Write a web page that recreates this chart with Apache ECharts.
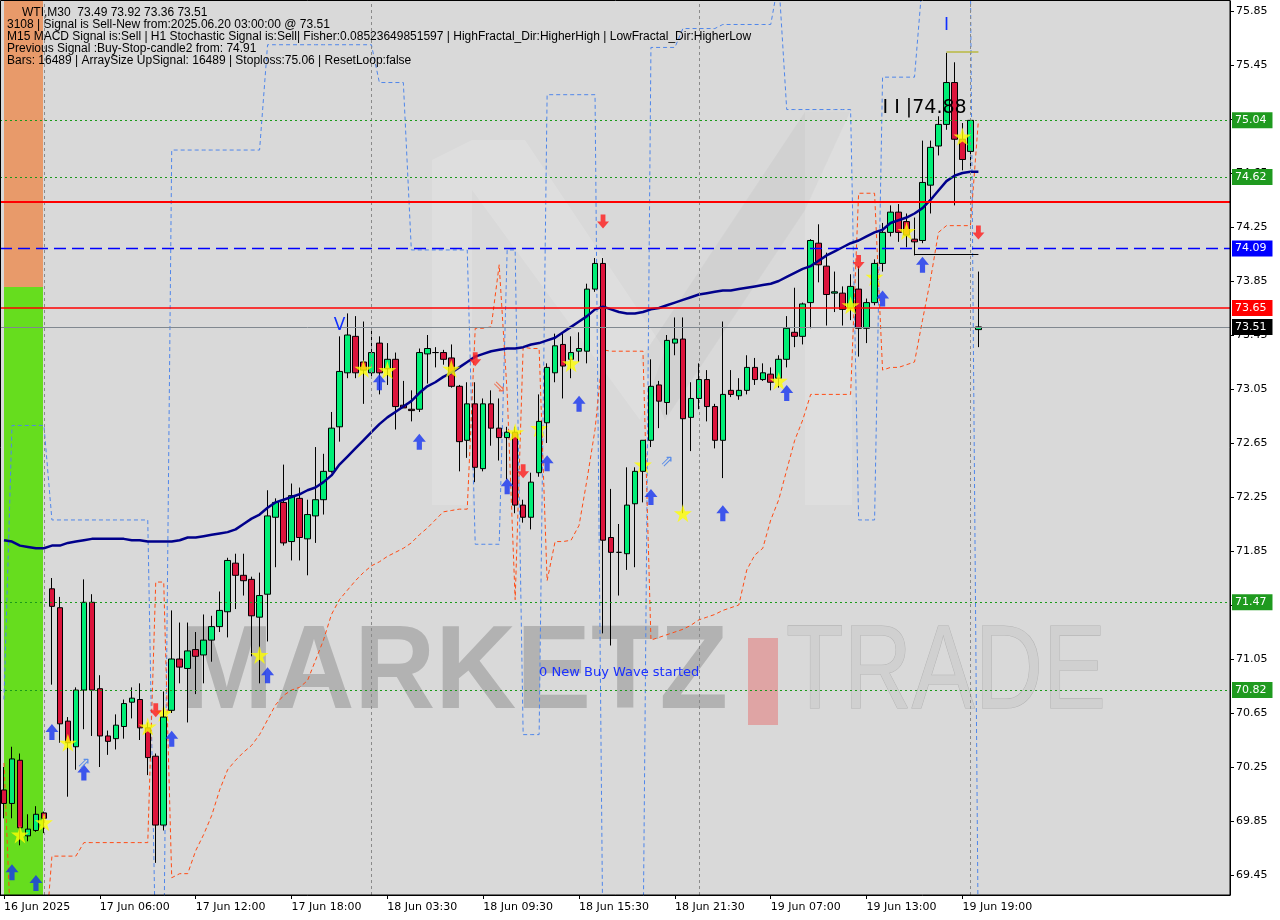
<!DOCTYPE html>
<html><head><meta charset="utf-8">
<script src="https://cdn.jsdelivr.net/npm/echarts@6/dist/echarts.min.js"></script>
<style>html,body{margin:0;padding:0;background:#fff}#c{width:1280px;height:920px}</style>
</head><body><div id="c"></div>
<script>
// ---------- data ----------
const timeLabels = ['16 Jun 2025','17 Jun 06:00','17 Jun 12:00','17 Jun 18:00','18 Jun 03:30','18 Jun 09:30','18 Jun 15:30','18 Jun 21:30','19 Jun 07:00','19 Jun 13:00','19 Jun 19:00'];
const timeLabelIdx = [0,12,24,36,48,60,72,84,96,108,120];
const slotCount = 154;
const priceTicks = [69.45,69.85,70.25,70.65,71.05,71.45,71.85,72.25,72.65,73.05,73.45,73.85,74.25,74.65,75.05,75.45,75.85];
const daySeparators = [5, 46, 87, 121];

const opens  = [70.08,69.98,70.30,69.74,69.78,69.91,71.57,71.43,70.59,70.40,70.82,71.47,70.83,70.48,70.46,70.55,70.73,70.75,70.54,70.33,69.82,70.67,71.05,70.98,71.12,71.08,71.19,71.29,71.40,71.76,71.67,71.64,71.36,71.53,72.10,72.21,71.92,72.24,71.94,72.11,72.23,72.44,72.77,73.17,73.44,73.25,73.17,73.39,73.20,73.27,72.93,72.90,72.90,73.31,73.32,73.32,73.28,73.07,72.67,72.94,72.46,72.94,72.76,72.69,72.73,72.19,72.10,72.43,72.80,73.17,73.38,73.27,73.33,73.33,73.79,73.98,71.95,71.84,71.83,72.20,72.44,72.67,73.08,72.95,73.39,73.42,72.84,72.98,73.12,72.92,72.67,73.04,73.00,73.04,73.21,73.12,73.16,73.13,73.27,73.47,73.44,73.69,74.13,73.96,73.76,73.76,73.65,73.79,73.50,73.69,73.98,74.21,74.36,74.29,74.16,74.15,74.56,74.85,75.01,75.32,74.90,74.81,73.49];
const closes = [69.98,70.31,69.80,69.79,69.90,69.87,71.44,70.57,70.43,70.82,71.47,70.82,70.48,70.44,70.56,70.72,70.76,70.54,70.32,69.82,70.62,71.05,70.99,71.11,71.07,71.19,71.29,71.41,71.78,71.67,71.63,71.37,71.52,72.11,72.21,71.91,72.26,71.95,72.12,72.23,72.44,72.76,73.18,73.45,73.17,73.19,73.32,73.17,73.27,72.92,72.91,72.89,73.32,73.35,73.32,73.27,73.07,72.66,72.94,72.47,72.94,72.76,72.69,72.73,72.19,72.10,72.36,72.81,73.21,73.37,73.22,73.32,73.35,73.79,73.98,71.93,71.84,71.84,72.19,72.44,72.67,73.07,72.96,73.41,73.42,72.83,72.98,73.12,72.92,72.67,73.01,73.01,73.04,73.21,73.12,73.17,73.10,73.27,73.50,73.44,73.68,74.15,73.97,73.75,73.77,73.64,73.81,73.50,73.69,73.98,74.21,74.36,74.21,74.19,74.14,74.58,74.84,75.01,75.32,74.90,74.75,75.04,73.51];
const lows   = [69.87,69.87,69.67,69.70,69.77,69.76,70.86,70.43,70.03,70.23,70.53,70.48,70.25,70.34,70.38,70.46,70.61,70.45,70.19,69.54,69.78,70.65,70.87,70.58,70.79,70.87,71.03,71.25,71.21,71.42,71.52,71.07,70.87,71.18,71.73,71.89,71.78,71.78,71.67,71.91,72.12,72.43,72.66,73.13,73.13,72.94,73.13,73.01,73.08,72.75,72.91,72.81,72.88,73.09,73.21,73.23,73.06,72.44,72.54,72.36,72.44,72.63,72.52,72.38,72.13,72.06,72.01,72.40,72.65,73.10,72.98,73.13,73.25,73.24,73.77,71.24,71.15,71.52,71.71,71.73,72.21,72.62,72.76,72.86,73.30,72.13,72.59,72.90,72.81,72.61,72.39,72.99,72.97,73.01,73.08,73.11,73.04,73.06,73.21,73.36,73.38,73.50,73.84,73.52,73.62,73.52,73.56,73.29,73.39,73.67,73.92,74.18,74.14,74.10,74.04,74.13,74.35,74.78,74.97,74.41,74.67,74.69,73.36];
const highs  = [70.25,70.40,70.35,69.90,69.96,69.92,71.65,71.51,70.62,70.84,71.64,71.53,70.93,70.52,70.64,70.75,70.84,70.87,70.58,70.35,70.81,71.41,71.32,71.32,71.25,71.38,71.37,71.55,71.80,71.83,71.83,71.66,71.69,72.30,72.24,72.49,72.35,72.32,72.23,72.62,72.57,72.88,73.44,73.61,73.59,73.55,73.48,73.44,73.39,73.32,73.11,73.04,73.35,73.45,73.36,73.34,73.38,73.08,73.10,73.10,72.98,73.04,72.98,72.77,72.77,72.23,72.43,73.01,73.24,73.46,73.47,73.44,73.47,73.83,74.02,74.02,72.31,72.05,72.47,72.47,72.67,73.27,73.11,73.45,73.58,73.58,73.10,73.24,73.19,72.94,73.55,73.19,73.13,73.30,73.28,73.24,73.21,73.30,73.59,73.80,73.69,74.16,74.27,74.06,73.92,73.81,73.90,73.96,73.72,74.01,74.28,74.41,74.42,74.35,74.32,74.89,74.89,75.07,75.54,75.47,75.02,75.04,73.92];
const maValues = [71.93,71.92,71.89,71.88,71.87,71.87,71.89,71.89,71.91,71.92,71.93,71.94,71.94,71.94,71.94,71.94,71.93,71.93,71.92,71.92,71.92,71.92,71.93,71.95,71.95,71.96,71.97,71.98,71.99,72.01,72.05,72.09,72.12,72.17,72.21,72.23,72.25,72.27,72.30,72.32,72.36,72.41,72.49,72.55,72.61,72.67,72.73,72.79,72.84,72.88,72.92,72.96,73.02,73.07,73.10,73.14,73.17,73.21,73.25,73.29,73.31,73.33,73.34,73.35,73.35,73.36,73.38,73.39,73.41,73.43,73.47,73.51,73.55,73.59,73.64,73.66,73.64,73.62,73.61,73.61,73.62,73.64,73.65,73.67,73.69,73.71,73.73,73.75,73.76,73.77,73.78,73.78,73.79,73.80,73.81,73.82,73.83,73.85,73.88,73.91,73.94,73.96,74.00,74.04,74.07,74.10,74.13,74.15,74.18,74.21,74.23,74.28,74.30,74.32,74.35,74.39,74.45,74.52,74.59,74.63,74.65,74.66,74.66];
// trailing stop lines (orange = tight, blue = wide)
const orangeStop = [70.28,68.82,68.82,68.82,68.82,68.82,69.59,69.59,69.59,69.59,69.69,69.69,69.69,69.69,69.69,69.69,69.69,69.69,69.69,71.62,71.62,69.43,69.46,69.46,69.63,69.75,69.89,70.08,70.23,70.30,70.36,70.41,70.49,70.60,70.71,70.78,70.82,70.84,70.89,71.04,71.19,71.38,71.49,71.56,71.63,71.69,71.74,71.77,71.81,71.84,71.87,71.91,71.97,72.02,72.08,72.14,72.15,72.16,72.16,73.50,73.50,73.51,73.97,73.02,71.49,73.36,73.35,73.35,71.63,71.92,71.92,71.93,72.04,72.38,72.75,73.34,73.33,73.33,73.33,73.33,73.33,71.19,71.21,71.23,71.25,71.27,71.30,71.34,71.36,71.38,71.41,71.43,71.45,71.71,71.82,71.87,72.08,72.23,72.45,72.67,72.82,73.01,73.01,73.01,73.01,73.01,73.01,74.50,74.50,74.50,73.19,73.21,73.21,73.23,73.25,73.56,73.86,74.21,74.26,74.26,74.26,74.26,75.04];
const blueStop = [70.75,72.78,72.78,72.78,72.78,72.78,72.08,72.08,72.08,72.08,72.08,72.08,72.08,72.08,72.08,72.08,72.08,72.08,72.08,68.82,68.82,74.82,74.82,74.82,74.82,74.82,74.82,74.82,74.82,74.82,74.82,74.82,74.82,75.60,75.60,75.60,75.60,75.60,75.60,75.60,75.60,75.60,75.60,75.60,75.60,75.60,75.60,75.32,75.32,75.32,75.32,74.08,74.08,74.08,74.08,74.08,74.08,74.08,74.08,71.90,71.90,71.90,71.90,74.08,74.08,70.49,70.49,70.49,75.23,75.23,75.23,75.23,75.23,75.23,75.23,68.82,68.82,68.82,68.82,68.82,68.82,75.58,75.58,75.58,75.58,75.72,75.72,75.72,75.72,75.72,75.75,75.75,75.75,75.75,75.75,75.75,75.75,76.08,75.12,75.12,75.12,75.12,75.12,75.12,75.12,75.12,75.12,72.08,72.08,72.08,75.36,75.36,75.36,75.36,75.36,76.08,76.08,76.08,76.08,76.08,76.08,76.08,68.82];

// markers [barIndex, price]
const starsFront = [[2,69.75],[5,69.84],[8,70.43],[18,70.55],[32,71.08],[45,73.20],[48,73.19],[56,73.20],[64,72.73],[71,73.24],[85,72.13],[97,73.11],[106,73.67],[113,74.22],[120,74.92]];
const starsBack  = [[20,70.65],[67,72.76],[80,72.49],[109,73.88]];
const buyArrows  = [[1,69.47],[4,69.39],[6,70.51],[10,70.21],[21,70.46],[33,70.93],[47,73.10],[52,72.66],[63,72.33],[68,72.50],[72,72.94],[81,72.25],[90,72.13],[98,73.02],[110,73.72],[115,73.97]];
const sellArrows = [[19,70.67],[59,73.27],[65,72.44],[75,74.29],[107,73.99],[122,74.21]];

// horizontal levels
const greenLevels = [75.04, 74.62, 71.47, 70.82];
const redThick = 74.435;
const blueLevel = 74.09;
const redLevel = 73.65;
const lastPrice = 73.51;
const highMark = {from: 118, to: 122, price: 75.546};
const lowMark = {from: 114, to: 122, price: 74.05};

const headerLines = [
  'WTI,M30  73.49 73.92 73.36 73.51',
  '3108 | Signal is Sell-New from:2025.06.20 03:00:00 @ 73.51',
  'M15 MACD Signal is:Sell | H1 Stochastic Signal is:Sell| Fisher:0.08523649851597 | HighFractal_Dir:HigherHigh | LowFractal_Dir:HigherLow',
  'Previous Signal :Buy-Stop-candle2 from: 74.91',
  'Bars: 16489 | ArraySize UpSignal: 16489 | Stoploss:75.06 | ResetLoop:false'
];

const annotations = [
  {i:42, p:73.52, t:'V', c:'#1030ff', s:17, align:'center'},
  {i:118, p:75.74, t:'I', c:'#1030ff', s:17, align:'center'},
  {i:110, p:75.13, t:'I I |74.88', c:'#000000', s:19, align:'left'},
  {i:67, p:70.95, t:'0 New Buy Wave started', c:'#1a30ff', s:13, align:'left'},
  {i:10, p:70.27, t:'\u21D7', c:'#5b8ee8', s:16, align:'center'},
  {i:83, p:72.51, t:'\u21D7', c:'#5b8ee8', s:16, align:'center'},
  {i:62, p:73.06, t:'\u21D8', c:'#f07050', s:16, align:'center'}
];

// ---------- build ----------
const cats = [];
for (let k = 0; k < slotCount; k++) cats.push(String(k));
const labelMap = {};
timeLabelIdx.forEach((k, j) => labelMap[k] = timeLabels[j]);
const candleData = opens.map((o, k) => [o, closes[k], lows[k], highs[k]]);

const starPath = 'path://M50,0 L61,35 L98,35 L68,57 L79,91 L50,70 L21,91 L32,57 L2,35 L39,35 Z';
const upPath = 'path://M50,0 L100,50 L70,50 L70,100 L30,100 L30,50 L0,50 Z';
const downPath = 'path://M30,0 L70,0 L70,50 L100,50 L50,100 L0,50 L30,50 Z';

const FONT = 'DejaVu Sans';
const chart = echarts.init(document.getElementById('c'));

function hl(v, color, type, width, labelBg) {
  const o = {yAxis: v, lineStyle: {color: color, type: type, width: width}};
  if (labelBg) {
    o.label = {show: true, position: 'end', distance: 2, formatter: v.toFixed(2), color: '#fff',
      backgroundColor: labelBg, padding: [3, 6, 2, 3], fontFamily: FONT, fontSize: 11};
  } else {
    o.label = {show: false};
  }
  return o;
}

const option = {
  animation: false,
  backgroundColor: '#ffffff',
  grid: {left: 0, right: 50, top: 1, bottom: 25},
  xAxis: {
    type: 'category', data: cats, boundaryGap: true,
    axisLine: {show: true, lineStyle: {color: '#000'}},
    axisTick: {show: true, alignWithLabel: true, length: 4, interval: (k) => labelMap[k] !== undefined, lineStyle: {color: '#000'}},
    axisLabel: {interval: (k) => labelMap[k] !== undefined, formatter: (v, k) => labelMap[k] || '', align: 'left',
      color: '#000', fontFamily: FONT, fontSize: 11, margin: 7},
    splitLine: {show: false}
  },
  yAxis: {
    type: 'value', position: 'right', min: 69.302, max: 75.924, scale: true,
    axisLine: {show: true, lineStyle: {color: '#000'}},
    axisTick: {show: true, length: 4, customValues: priceTicks, lineStyle: {color: '#000'}},
    axisLabel: {customValues: priceTicks, formatter: (v) => v.toFixed(2), color: '#000', fontFamily: FONT, fontSize: 11, margin: 6},
    splitLine: {show: false}
  },
  series: [
    {
      type: 'line', name: 'sep', data: [], z: 0, silent: true,
      markLine: {silent: true, symbol: ['none', 'none'], label: {show: false},
        lineStyle: {color: '#8a8a8a', type: [3, 3], width: 1},
        data: daySeparators.map(k => ({xAxis: k}))}
    },
    {
      type: 'line', name: 'blueStop', data: blueStop, symbol: 'none', z: 1, silent: true, clip: true,
      lineStyle: {color: '#4f86ea', type: [4, 3], width: 1}
    },
    {
      type: 'line', name: 'orangeStop', data: orangeStop, symbol: 'none', z: 1, silent: true, clip: true,
      lineStyle: {color: '#ff4b14', type: [4, 3], width: 1}
    },
    {
      type: 'scatter', name: 'starsBack', data: starsBack, symbol: starPath, symbolSize: 18, z: 1,
      itemStyle: {color: '#ffff00'}, silent: true
    },
    {
      type: 'candlestick', name: 'WTI', data: candleData, barWidth: 6, z: 3,
      itemStyle: {color: '#00ee76', color0: '#dc143c', borderColor: '#000', borderColor0: '#000', borderWidth: 1},
      markLine: {
        silent: true, symbol: ['none', 'none'], animation: false,
        data: [
          ...greenLevels.map(v => hl(v, '#1a9a1a', [2, 3], 1, '#1f9a1f')),
          hl(redThick, '#ff0000', 'solid', 2, null),
          hl(blueLevel, '#0000ff', [12, 6], 1.3, '#0000ff'),
          hl(redLevel, '#ff0000', 'solid', 1.5, '#ff0000'),
          hl(lastPrice, '#808890', 'solid', 1, '#000000'),
          [{coord: [highMark.from, highMark.price], lineStyle: {color: '#b8b840', type: 'solid', width: 1.5}, label: {show: false}},
           {coord: [highMark.to, highMark.price]}],
          [{coord: [lowMark.from, lowMark.price], lineStyle: {color: '#000000', type: 'solid', width: 1}, label: {show: false}},
           {coord: [lowMark.to, lowMark.price]}]
        ]
      }
    },
    {
      type: 'line', name: 'MA', data: maValues, symbol: 'none', z: 4,
      lineStyle: {color: '#00008b', width: 2.5}
    },
    {
      type: 'scatter', name: 'starsFront', data: starsFront, symbol: starPath, symbolSize: 18, z: 5,
      itemStyle: {color: '#ffff00'}, silent: true
    },
    {
      type: 'scatter', name: 'buy', data: buyArrows, symbol: upPath, symbolSize: [13, 16], z: 5,
      itemStyle: {color: '#1533f0'}, silent: true
    },
    {
      type: 'scatter', name: 'sell', data: sellArrows, symbol: downPath, symbolSize: [12, 14], z: 5,
      itemStyle: {color: '#ff1a1a'}, silent: true
    }
  ]
};
chart.setOption(option);

// background + watermark + header (pixel layout, not data)
const g = [];
g.push({type: 'rect', z: -20, shape: {x: 0, y: 1, width: 1230, height: 894}, style: {fill: '#d9d9d9'}});
// faint logo "M"
const logoLight = 'rgba(255,255,255,0.14)';
const logoDark = 'rgba(120,120,120,0.07)';
g.push({type: 'polygon', z: -18, shape: {points: [[432,160],[472,140],[472,505],[432,505]]}, style: {fill: logoLight}});
g.push({type: 'polygon', z: -18, shape: {points: [[472,140],[525,140],[665,350],[640,420],[472,190]]}, style: {fill: logoLight}});
g.push({type: 'polygon', z: -18, shape: {points: [[850,112],[805,112],[640,360],[665,420],[805,210]]}, style: {fill: logoDark}});
g.push({type: 'polygon', z: -18, shape: {points: [[805,112],[852,112],[852,505],[805,505]]}, style: {fill: logoLight}});
g.push({type: 'rect', z: -19, shape: {x: 4, y: 1, width: 39, height: 286}, style: {fill: '#e89a6a'}});
g.push({type: 'rect', z: -19, shape: {x: 4, y: 287, width: 39, height: 608}, style: {fill: '#66dd1e'}});
g.push({type: 'text', z: -15, x: 180, y: 616, scaleX: 0.95, style: {text: 'MARKETZ', fill: '#b2b2b2', font: 'bold 118px "Liberation Sans"'}});
g.push({type: 'rect', z: -15, shape: {x: 748, y: 638, width: 30, height: 87}, style: {fill: '#dfa4a4'}});
g.push({type: 'text', z: -15, x: 786, y: 616, scaleX: 0.8, style: {text: 'TRADE', fill: '#d0d0d0', stroke: '#b5b5b5', lineWidth: 1.2, font: '300 118px "Liberation Sans"'}});
headerLines.forEach((t, k) => {
  g.push({type: 'text', z: 10, x: k === 0 ? 22 : 7, y: 7 + 12 * k, style: {text: t, fill: '#000', font: '12px "Liberation Sans"'}});
});
g.push({type: 'rect', z: 30, shape: {x: 0.5, y: 0.5, width: 1229.5, height: 894.5}, style: {fill: 'none', stroke: '#000', lineWidth: 1}});
annotations.forEach(a => {
  const pt = chart.convertToPixel({xAxisIndex: 0, yAxisIndex: 0}, [a.i, a.p]);
  g.push({type: 'text', z: 12, x: pt[0], y: pt[1], style: {text: a.t, fill: a.c, font: a.s + 'px "DejaVu Sans"', align: a.align, verticalAlign: 'middle'}});
});
chart.setOption({graphic: g});
</script></body></html>
